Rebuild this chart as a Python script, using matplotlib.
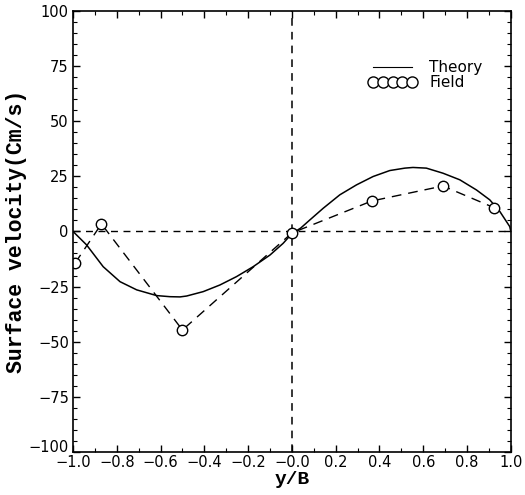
import matplotlib
matplotlib.use('Agg')
import matplotlib.pyplot as plt
from matplotlib.lines import Line2D
from matplotlib.ticker import MultipleLocator, FixedLocator, FixedFormatter

# theory curve
theory_x = [-1.0, -0.938, -0.862, -0.785, -0.709, -0.618, -0.557, -0.511, -0.481, -0.405,
            -0.329, -0.253, -0.177, -0.1, -0.04, 0.0, 0.04, 0.082, 0.143, 0.219, 0.295,
            0.371, 0.447, 0.516, 0.553, 0.614, 0.69, 0.767, 0.843, 0.904, 0.95, 0.995, 1.0]
theory_v = [0.0, -6.1, -16.0, -22.8, -26.5, -29.1, -29.6, -29.7, -29.3, -27.3,
            -24.3, -20.5, -16.0, -10.7, -5.4, -1.0, 1.5, 5.2, 10.5, 16.6, 21.1,
            24.9, 27.6, 28.7, 29.0, 28.7, 26.4, 23.4, 18.8, 14.3, 9.0, 2.2, 0.0]

# field measurements
field_x = [-0.99, -0.87, -0.5, 0.0, 0.365, 0.69, 0.925]
field_v = [-14.3, 3.4, -44.7, -0.7, 13.8, 20.6, 10.7]

xtick_vals = [-1.0, -0.8, -0.6, -0.4, -0.2, 0.0, 0.2, 0.4, 0.6, 0.8, 1.0]
xtick_labels = ['\u22121.0', '\u22120.8', '\u22120.6', '\u22120.4', '\u22120.2', '\u22120.0',
                '0.2', '0.4', '0.6', '0.8', '1.0']
ytick_vals = [-100, -75, -50, -25, 0, 25, 50, 75, 100]
ytick_labels = ['\u2212100', '\u221275', '\u221250', '\u221225', '0', '25', '50', '75', '100']

fig = plt.figure(figsize=(5.25, 4.95), dpi=100)
ax = fig.add_axes([0.139, 0.087, 0.834, 0.891])

ax.axhline(0, color='black', lw=1.0, ls=(0, (5, 4)))
ax.axvline(0, color='black', lw=1.1, ls=(0, (5, 4)))

ax.plot(theory_x, theory_v, color='black', lw=1.1)
ax.plot(field_x, field_v, color='black', lw=1.0, ls=(0, (7, 5)),
        marker='o', markersize=7.5, markerfacecolor='white', markeredgecolor='black',
        markeredgewidth=1.0)

ax.set_xlim(-1.0, 1.0)
ax.set_ylim(-100, 100)
ax.xaxis.set_major_locator(FixedLocator(xtick_vals))
ax.xaxis.set_major_formatter(FixedFormatter(xtick_labels))
ax.yaxis.set_major_locator(FixedLocator(ytick_vals))
ax.yaxis.set_major_formatter(FixedFormatter(ytick_labels))
ax.xaxis.set_minor_locator(MultipleLocator(0.1))
ax.yaxis.set_minor_locator(MultipleLocator(5))
ax.tick_params(which='both', direction='in', top=True, right=True, labelsize=10.5)
ax.tick_params(which='major', length=5, width=1.0)
ax.tick_params(which='minor', length=3, width=0.8)
ax.tick_params(axis='x', pad=2)
ax.tick_params(axis='y', pad=3)
for s in ax.spines.values():
    s.set_linewidth(1.2)

# lift the bottom y label a bit so it clears the -1.0 x label
ax.get_yticklabels()[0].set_verticalalignment('baseline')

ax.set_xlabel('y/B', fontsize=14, fontweight='bold', family='Liberation Mono', labelpad=1)
ax.set_ylabel('Surface velocity(Cm/s)', fontsize=15.5, fontweight='bold',
              family='Liberation Mono', labelpad=1)

handles = [Line2D([], [], color='black', lw=0.8),
           Line2D([], [], ls='none', marker='o', markersize=8, markerfacecolor='white',
                  markeredgecolor='black')]
ax.legend(handles, ['Theory', 'Field'], loc='upper left', bbox_to_anchor=(0.66, 0.902),
          frameon=False, fontsize=11, numpoints=5, handlelength=3.2, handletextpad=0.8,
          labelspacing=0.0, borderaxespad=0)

fig.savefig('out.png', dpi=100)
